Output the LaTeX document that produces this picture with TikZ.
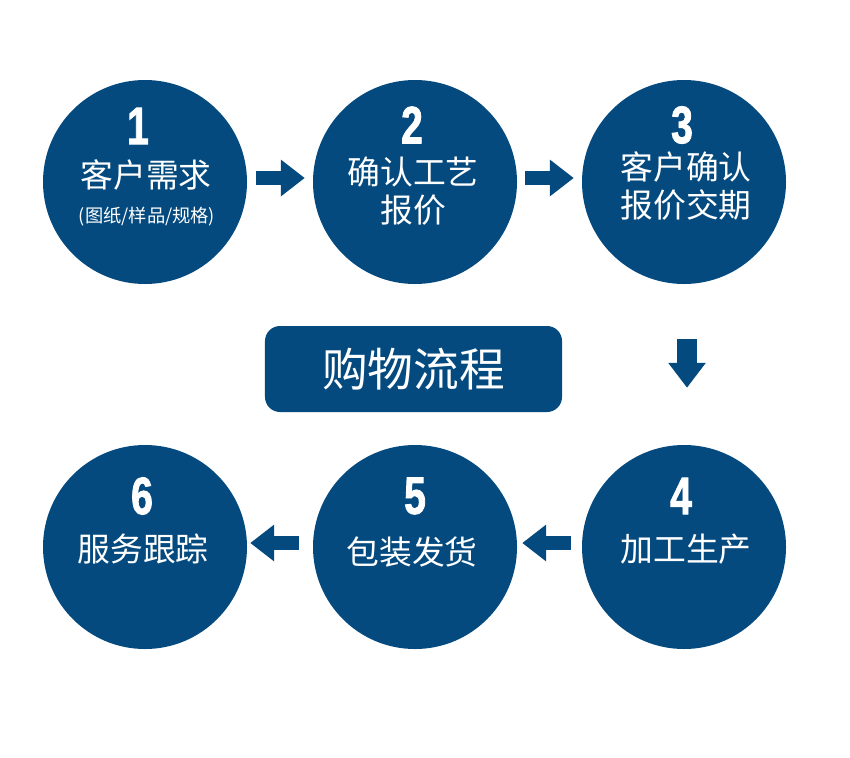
\documentclass[tikz,border=0pt]{standalone}
\usepackage{fontspec}
\setmainfont{Noto Sans CJK SC}
\newfontfamily\numfont[FakeStretch=0.74,FakeBold=1.6]{Liberation Sans}
\usetikzlibrary{arrows.meta}
\definecolor{stepblue}{RGB}{4,74,127}
\tikzset{
  stepcircle/.style={circle, fill=stepblue, minimum size=6.12cm, inner sep=0pt},
  stepnum/.style={text=white, inner sep=0pt, font=\numfont\bfseries\fontsize{45}{45}\selectfont},
  steptext/.style={text=white, align=center, inner sep=0pt, font=\fontsize{28}{32}\selectfont},
  subtext/.style={text=white, inner sep=0pt, font=\fontsize{15.6}{16}\selectfont},
  titlebox/.style={fill=stepblue, text=white, rounded corners=0.45cm, minimum width=8.91cm, minimum height=2.58cm, font=\fontsize{39}{39}\selectfont},
  flow/.style={stepblue, line width=0.42cm, -{Triangle[length=0.72cm,width=1.06cm]}},
  flowdown/.style={stepblue, line width=0.6cm, -{Triangle[length=0.75cm,width=1.08cm]}},
}
\begin{document}
\begin{tikzpicture}[x=0.03cm, y=-0.03cm]
\useasboundingbox (0,0) rectangle (850,757);
% circles
\node[stepcircle] (s1) at (145,182) {};
\node[stepcircle] (s2) at (415,182) {};
\node[stepcircle] (s3) at (684,182) {};
\node[stepcircle] (s4) at (684,547) {};
\node[stepcircle] (s5) at (415,547) {};
\node[stepcircle] (s6) at (145,547) {};
% numbers
\node[stepnum] (n1) at (138,126) {1};
\node[stepnum] (n2) at (412,125) {2};
\node[stepnum] (n3) at (682,125) {3};
\node[stepnum] (n4) at (681,496) {4};
\node[stepnum] (n5) at (415,496) {5};
\node[stepnum] (n6) at (142,496) {6};
% labels
\node[steptext] (t1) at (146,175) {客户需求};
\node[subtext] (t1b) at (147,217) {(图纸/样品/规格)};
\node[steptext] (t2) at (413,191) {确认工艺\\报价};
\node[steptext] (t3) at (686,186) {客户确认\\报价交期};
\node[steptext] (t4) at (686,549) {加工生产};
\node[steptext] (t5) at (412,552) {包装发货};
\node[steptext] (t6) at (143,549) {服务跟踪};
% title
\node[titlebox] (title) at (413.5,369) {购物流程};
% arrows
\draw[flow, shorten <=0.27cm, shorten >=0.24cm] ([yshift=0.12cm]s1.east) -- ([yshift=0.12cm]s2.west);
\draw[flow, shorten <=0.24cm, shorten >=0.24cm] ([yshift=0.12cm]s2.east) -- ([yshift=0.12cm]s3.west);
\draw[flowdown, shorten <=1.65cm, shorten >=1.71cm] ([xshift=0.09cm]s3.south) -- ([xshift=0.09cm]s4.north);
\draw[flow, shorten <=0.33cm, shorten >=0.15cm] ([yshift=0.12cm]s4.west) -- ([yshift=0.12cm]s5.east);
\draw[flow, shorten <=0.42cm, shorten >=0.09cm] ([yshift=0.12cm]s5.west) -- ([yshift=0.12cm]s6.east);
\end{tikzpicture}
\end{document}
